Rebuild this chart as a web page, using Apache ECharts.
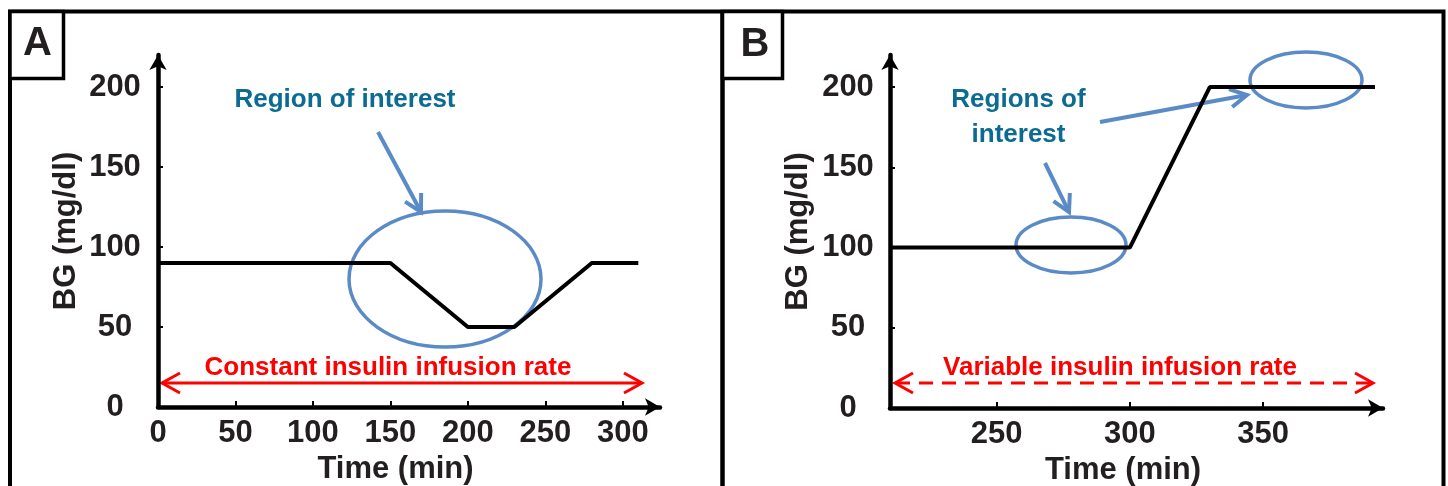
<!DOCTYPE html>
<html>
<head>
<meta charset="utf-8">
<script src="https://cdn.jsdelivr.net/npm/echarts@6/dist/echarts.min.js"></script>
<style>
  html, body { margin: 0; padding: 0; background: #fff; }
  #chartDiv { width: 1448px; height: 486px; }
</style>
</head>
<body>
<div id="chartDiv"></div>
<script>
var myChart = echarts.init(document.getElementById('chartDiv'));

// panel A: constant insulin infusion rate
var timeA = [0, 150, 200, 230, 280, 310];
var bgA = [90, 90, 50, 50, 90, 90];
// panel B: variable insulin infusion rate
var timeB = [210, 300, 330, 392];
var bgB = [100, 100, 200, 200];

var yTicks = [0, 50, 100, 150, 200];
var xTicksA = [0, 50, 100, 150, 200, 250, 300];
var xTicksB = [250, 300, 350];

var FONT = '"Liberation Sans", Arial, sans-serif';
var INK = '#231f20';
var BLUE = '#5b8bc7';
var TEAL = '#0b6b93';
var RED = '#ff0000';

function pairs(xs, ys) {
    return xs.map(function (x, i) { return [x, ys[i]]; });
}

function xAxisOf(idx, min, max, ticks) {
    return {
        type: 'value', gridIndex: idx, min: min, max: max,
        name: 'Time (min)', nameLocation: 'middle', nameGap: 39,
        nameTextStyle: {fontFamily: FONT, fontWeight: 'bold', fontSize: 31, color: INK,
            padding: [0, 27, 0, 0]},
        axisLine: {show: true, onZero: false, symbol: ['none', 'arrow'], symbolSize: [13, 15],
            lineStyle: {color: '#000', width: 4.5}},
        axisTick: {show: true, inside: true, length: 6, customValues: ticks,
            lineStyle: {color: '#000', width: 2}},
        axisLabel: {customValues: ticks, margin: 11, fontFamily: FONT, fontWeight: 'bold',
            fontSize: 31, color: INK},
        splitLine: {show: false}
    };
}

function yAxisOf(idx, margin) {
    return {
        type: 'value', gridIndex: idx, min: 0, max: 220,
        name: 'BG (mg/dl)', nameLocation: 'middle', nameGap: 76,
        nameTextStyle: {fontFamily: FONT, fontWeight: 'bold', fontSize: 31, color: INK},
        axisLine: {show: true, onZero: false, symbol: ['none', 'arrow'], symbolSize: [13, 15],
            lineStyle: {color: '#000', width: 4.5}},
        axisTick: {show: true, inside: true, length: 5, customValues: yTicks,
            lineStyle: {color: '#000', width: 2}},
        axisLabel: {customValues: yTicks, margin: margin, align: 'center', fontFamily: FONT,
            fontWeight: 'bold', fontSize: 31, color: INK},
        splitLine: {show: false}
    };
}

function vArrow(x, y, dir) {
    // open V arrowhead, dir = -1 points left, 1 points right
    return {type: 'polyline', silent: true,
        shape: {points: [[x - dir * 18, y - 10], [x, y], [x - dir * 18, y + 10]]},
        style: {fill: null, stroke: RED, lineWidth: 3}};
}

function pointer(x1, y1, x2, y2) {
    var a = Math.atan2(y2 - y1, x2 - x1), L = 19, s = 0.5;
    return [
        {type: 'line', silent: true, shape: {x1: x1, y1: y1, x2: x2, y2: y2},
            style: {stroke: BLUE, lineWidth: 4}},
        {type: 'polyline', silent: true,
            shape: {points: [
                [x2 - L * Math.cos(a - s), y2 - L * Math.sin(a - s)], [x2, y2],
                [x2 - L * Math.cos(a + s), y2 - L * Math.sin(a + s)]]},
            style: {fill: null, stroke: BLUE, lineWidth: 4}}
    ];
}

function label(text, x, y, color, size) {
    return {type: 'text', silent: true, x: x, y: y,
        style: {text: text, fill: color, font: 'bold ' + size + 'px ' + FONT,
            align: 'center', verticalAlign: 'middle', lineHeight: 35}};
}

var graphics = [
    // frames
    {type: 'rect', silent: true, shape: {x: 10, y: 11.5, width: 1433.5, height: 500},
        style: {fill: null, stroke: '#000', lineWidth: 4}},
    {type: 'line', silent: true, shape: {x1: 722.5, y1: 11.5, x2: 722.5, y2: 486},
        style: {stroke: '#000', lineWidth: 4.5}},
    {type: 'rect', silent: true, shape: {x: 10, y: 11.5, width: 53.5, height: 67},
        style: {fill: '#fff', stroke: '#000', lineWidth: 3.5}},
    {type: 'rect', silent: true, shape: {x: 722.5, y: 11.5, width: 60, height: 67},
        style: {fill: '#fff', stroke: '#000', lineWidth: 3.5}},
    label('A', 37.5, 44, INK, 40),
    label('B', 755, 45, INK, 40),

    // panel A annotations
    {type: 'ellipse', silent: true, shape: {cx: 445, cy: 279, rx: 96, ry: 68},
        style: {fill: null, stroke: BLUE, lineWidth: 3.5}},
    label('Region of interest', 345, 100, TEAL, 26),
    label('Constant insulin infusion rate', 388, 368, RED, 26),
    {type: 'line', silent: true, shape: {x1: 162, y1: 383, x2: 642, y2: 383},
        style: {stroke: RED, lineWidth: 3}},
    vArrow(162, 383, -1),
    vArrow(642, 383, 1),

    // panel B annotations
    {type: 'ellipse', silent: true, shape: {cx: 1071, cy: 245, rx: 55, ry: 28},
        style: {fill: null, stroke: BLUE, lineWidth: 3.5}},
    {type: 'ellipse', silent: true, shape: {cx: 1306, cy: 80, rx: 56, ry: 28},
        style: {fill: null, stroke: BLUE, lineWidth: 3.5}},
    label('Regions of\ninterest', 1018.5, 117, TEAL, 26),
    label('Variable insulin infusion rate', 1120, 368, RED, 26),
    {type: 'line', silent: true, shape: {x1: 896, y1: 383, x2: 1373, y2: 383},
        style: {stroke: RED, lineWidth: 3, lineDash: [14, 9]}},
    vArrow(895, 383, -1),
    vArrow(1373, 383, 1)
];
graphics = graphics.concat(pointer(378, 132, 421, 212));
graphics = graphics.concat(pointer(1045, 163, 1069, 212));
graphics = graphics.concat(pointer(1100, 122, 1247, 95));

option = {
    backgroundColor: '#fff',
    animation: false,
    grid: [
        {left: 158, right: 788, top: 55, bottom: 79, outerBoundsMode: 'none'},
        {left: 890, right: 65, top: 55, bottom: 78, outerBoundsMode: 'none'}
    ],
    xAxis: [
        xAxisOf(0, 0, 324, xTicksA),
        xAxisOf(1, 210, 395, xTicksB)
    ],
    yAxis: [
        yAxisOf(0, 43),
        yAxisOf(1, 42)
    ],
    series: [
        {
            name: 'A', type: 'line', xAxisIndex: 0, yAxisIndex: 0,
            data: pairs(timeA, bgA), showSymbol: false, z: 3,
            lineStyle: {color: '#000', width: 4}
        },
        {
            name: 'B', type: 'line', xAxisIndex: 1, yAxisIndex: 1,
            data: pairs(timeB, bgB), showSymbol: false, z: 3,
            lineStyle: {color: '#000', width: 4}
        }
    ],
    graphic: graphics
};
myChart.setOption(option);
</script>
</body>
</html>
